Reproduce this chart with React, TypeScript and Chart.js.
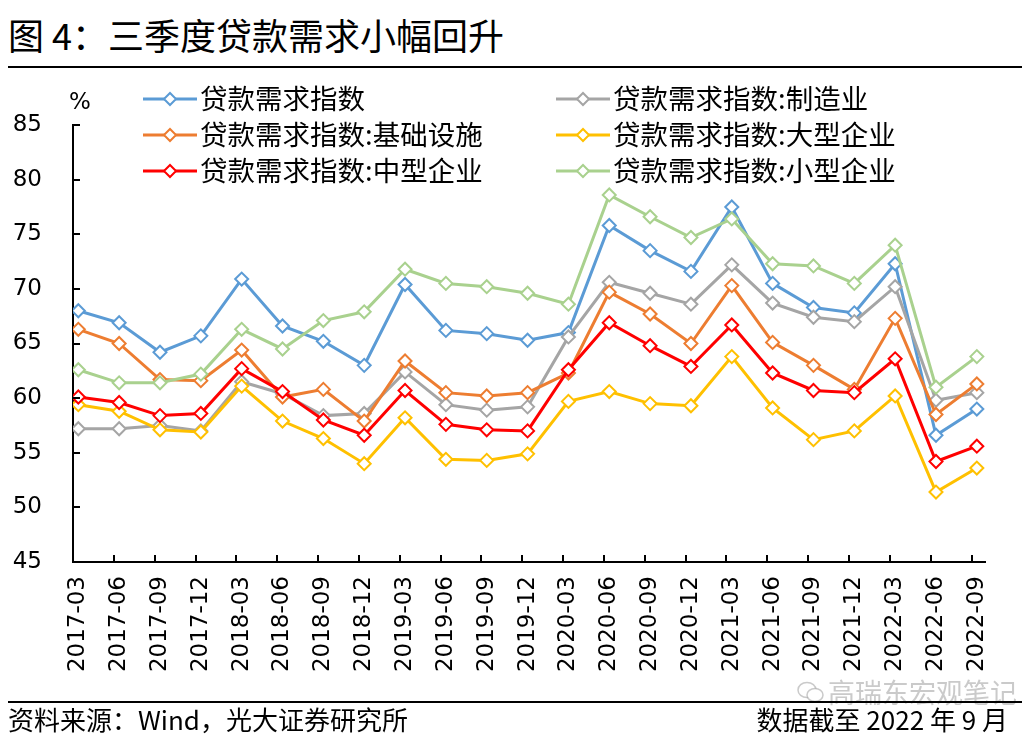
import React, { useEffect, useRef } from "react";
import { Chart, registerables } from "chart.js";

Chart.register(...registerables);

const categories = [
  "2017-03", "2017-06", "2017-09", "2017-12",
  "2018-03", "2018-06", "2018-09", "2018-12",
  "2019-03", "2019-06", "2019-09", "2019-12",
  "2020-03", "2020-06", "2020-09", "2020-12",
  "2021-03", "2021-06", "2021-09", "2021-12",
  "2022-03", "2022-06", "2022-09",
];

const seriesNames = [
  "贷款需求指数",
  "贷款需求指数:制造业",
  "贷款需求指数:基础设施",
  "贷款需求指数:大型企业",
  "贷款需求指数:中型企业",
  "贷款需求指数:小型企业",
];

const loanDemand = [68.0, 66.9, 64.2, 65.7, 70.9, 66.6, 65.2, 63.0, 70.4, 66.2, 65.9, 65.3, 66.0, 75.8, 73.5, 71.6, 77.5, 70.5, 68.3, 67.8, 72.3, 56.6, 59.0];
const manufacturing = [57.2, 57.2, 57.5, 57.0, 61.5, 60.4, 58.4, 58.6, 62.4, 59.4, 58.9, 59.2, 65.6, 70.6, 69.6, 68.6, 72.2, 68.7, 67.4, 67.0, 70.2, 59.8, 60.5];
const infrastructure = [66.3, 65.0, 61.7, 61.6, 64.4, 60.1, 60.8, 57.9, 63.4, 60.5, 60.2, 60.5, 62.3, 69.7, 67.7, 65.0, 70.3, 65.1, 63.0, 60.8, 67.3, 58.5, 61.3];
const largeEnterprise = [59.4, 58.8, 57.1, 56.9, 61.1, 57.9, 56.3, 54.0, 58.2, 54.4, 54.3, 54.9, 59.7, 60.6, 59.5, 59.3, 63.8, 59.1, 56.2, 57.0, 60.2, 51.4, 53.6];
const mediumEnterprise = [60.1, 59.6, 58.4, 58.6, 62.7, 60.6, 58.0, 56.6, 60.7, 57.6, 57.1, 57.0, 62.6, 66.9, 64.8, 62.9, 66.7, 62.3, 60.7, 60.5, 63.6, 54.2, 55.6];
const smallEnterprise = [62.6, 61.4, 61.4, 62.2, 66.3, 64.5, 67.1, 67.9, 71.8, 70.5, 70.2, 69.6, 68.6, 78.6, 76.6, 74.7, 76.4, 72.3, 72.1, 70.5, 74.0, 61.0, 63.8];

const yTicks = [45, 50, 55, 60, 65, 70, 75, 80, 85];

const allSeries = [loanDemand, manufacturing, infrastructure, largeEnterprise, mediumEnterprise, smallEnterprise];
const colors = ["#5B9BD5", "#A5A5A5", "#ED7D31", "#FFC000", "#FF0000", "#A9D18E"];

const CJK = '"Noto Sans CJK SC", "Noto Sans", sans-serif';
const NUM = '"DejaVu Sans", sans-serif';

function LegendItem({ name, color, left, cy }: { name: string; color: string; left: number; cy: number }) {
  return (
    <div style={{ position: "absolute", left, top: cy - 14, height: 28, display: "flex", alignItems: "center", whiteSpace: "nowrap" }}>
      <svg width={54} height={16} style={{ display: "block" }}>
        <line x1={0} y1={8} x2={54} y2={8} stroke={color} strokeWidth={3} />
        <polygon points="21,8 27,2 33,8 27,14" fill="#fff" stroke={color} strokeWidth={2} />
      </svg>
      <span style={{ fontFamily: CJK, fontSize: 27.5, lineHeight: "28px", color: "#000", marginLeft: 3, position: "relative", top: -2 }}>{name}</span>
    </div>
  );
}

export default function App() {
  const ref = useRef<HTMLCanvasElement>(null);

  useEffect(() => {
    const canvas = ref.current;
    if (!canvas) return;
    const tickOffset = 0.13;
    const insideTicks = {
      id: "insideTicks",
      afterDraw(chart: any) {
        const { ctx, chartArea, scales } = chart;
        const xs = scales.x;
        const ys = scales.y;
        ctx.save();
        ctx.strokeStyle = "#000";
        ctx.lineWidth = 2;
        ctx.beginPath();
        for (const v of yTicks) {
          if (v === yTicks[0]) continue;
          const py = Math.round(ys.getPixelForValue(v));
          ctx.moveTo(chartArea.left, py);
          ctx.lineTo(chartArea.left + 7, py);
        }
        for (let i = 1; i < categories.length; i++) {
          const px = Math.round(xs.getPixelForValue(i - tickOffset));
          ctx.moveTo(px, chartArea.bottom);
          ctx.lineTo(px, chartArea.bottom - 7);
        }
        ctx.stroke();
        ctx.restore();
      },
    };

    const chart = new Chart(canvas, {
      type: "line",
      data: {
        datasets: allSeries.map((vals, si) => ({
          label: seriesNames[si],
          data: vals.map((v, i) => ({ x: i, y: v })),
          borderColor: colors[si],
          backgroundColor: colors[si],
          borderWidth: 3,
          pointStyle: "rectRot",
          pointRadius: 6.5,
          pointBorderWidth: 2,
          pointBackgroundColor: "#fff",
          pointBorderColor: colors[si],
          tension: 0,
          order: allSeries.length - si,
        })),
      },
      options: {
        animation: false,
        responsive: false,
        layout: { padding: { left: 0, top: 125, right: 45, bottom: 42 } },
        plugins: { legend: { display: false }, tooltip: { enabled: false } },
        scales: {
          x: {
            type: "linear",
            min: -tickOffset,
            max: 22.2,
            afterBuildTicks: (scale: any) => {
              scale.ticks = categories.map((_, i) => ({ value: i }));
            },
            afterFit: (scale: any) => {
              scale.height = 140;
            },
            ticks: {
              autoSkip: false,
              minRotation: 90,
              maxRotation: 90,
              padding: 14,
              color: "#000",
              font: { family: NUM, size: 23 },
              callback: (v: any) => categories[Math.round(Number(v))] ?? "",
            },
            grid: { display: true, drawOnChartArea: false, drawTicks: false },
            border: { display: true, color: "#000", width: 2 },
          },
          y: {
            min: 45,
            max: 85,
            afterBuildTicks: (scale: any) => {
              scale.ticks = yTicks.map((v) => ({ value: v }));
            },
            afterFit: (scale: any) => {
              scale.width = 73;
            },
            ticks: {
              padding: 31,
              color: "#000",
              font: { family: NUM, size: 23 },
            },
            grid: { display: true, drawOnChartArea: false, drawTicks: false },
            border: { display: true, color: "#000", width: 2 },
          },
        },
      },
      plugins: [insideTicks],
    });
    return () => chart.destroy();
  }, []);

  const col1 = 143;
  const col2 = 556;
  const rows = [99, 135, 170.5];
  const legendPos = [
    [col1, rows[0]], [col2, rows[0]],
    [col1, rows[1]], [col2, rows[1]],
    [col1, rows[2]], [col2, rows[2]],
  ];

  return (
    <div style={{ position: "fixed", left: 0, top: 0, width: 1030, height: 744, background: "#fff", overflow: "hidden" }}>
      <div style={{ position: "absolute", left: 8, top: 16, fontFamily: CJK, fontSize: 36, lineHeight: "36px", color: "#000", fontWeight: 400, whiteSpace: "nowrap" }}>
        图 4：三季度贷款需求小幅回升
      </div>
      <div style={{ position: "absolute", left: 8, top: 66, width: 1014, height: 2, background: "#000" }} />
      <canvas ref={ref} width={1030} height={744} style={{ position: "absolute", left: 0, top: 0, width: 1030, height: 744 }} />
      <div style={{ position: "absolute", left: 69, top: 90, fontFamily: NUM, fontSize: 23, lineHeight: "23px", color: "#000" }}>%</div>
      {seriesNames.map((n, i) => (
        <LegendItem key={n} name={n} color={colors[i]} left={legendPos[i][0]} cy={legendPos[i][1]} />
      ))}
      <div style={{ position: "absolute", left: 796, top: 678, display: "flex", alignItems: "center", color: "rgba(150,150,150,0.5)", whiteSpace: "nowrap" }}>
        <svg width={30} height={26} style={{ display: "block", marginRight: 2 }}>
          <ellipse cx={11} cy={11} rx={9} ry={7.5} fill="none" stroke="rgba(150,150,150,0.5)" strokeWidth={1.5} />
          <ellipse cx={19} cy={16} rx={8} ry={6.5} fill="#fff" stroke="rgba(150,150,150,0.5)" strokeWidth={1.5} />
        </svg>
        <span style={{ fontFamily: CJK, fontSize: 27, lineHeight: "27px" }}>高瑞东宏观笔记</span>
      </div>
      <div style={{ position: "absolute", left: 8, top: 701, width: 1014, height: 2, background: "#000" }} />
      <div style={{ position: "absolute", left: 8, top: 706, fontFamily: CJK, fontSize: 26, lineHeight: "26px", color: "#000", whiteSpace: "nowrap" }}>
        资料来源：Wind，光大证券研究所
      </div>
      <div style={{ position: "absolute", right: 22, top: 706, fontFamily: CJK, fontSize: 26, lineHeight: "26px", color: "#000", whiteSpace: "nowrap" }}>
        数据截至 2022 年 9 月
      </div>
    </div>
  );
}
